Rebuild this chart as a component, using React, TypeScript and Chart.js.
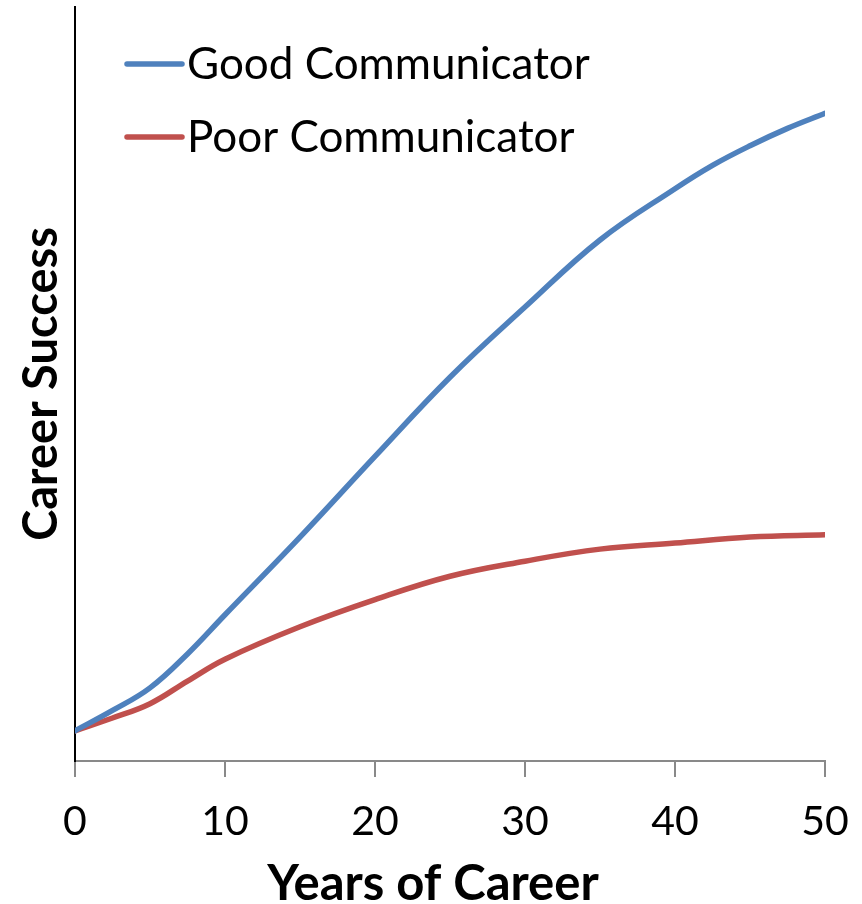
import React, { useEffect, useRef } from "react";
import { Chart, registerables } from "chart.js";

Chart.register(...registerables);

const years = [0, 2.5, 5, 7.5, 10, 15, 20, 25, 30, 35, 40, 42.5, 45, 47.5, 50];
const goodValues = [4.0, 6.7, 9.7, 14.2, 19.4, 29.7, 40.4, 50.9, 60.2, 69.1, 75.9, 79.0, 81.6, 83.9, 85.9];
const poorYears = [0, 2.5, 5, 7.5, 10, 15, 20, 25, 30, 35, 40, 45, 50];
const poorValues = [4.0, 5.7, 7.6, 10.6, 13.5, 17.8, 21.4, 24.5, 26.5, 28.1, 28.9, 29.7, 30.0];
const seriesNames = ["Good Communicator", "Poor Communicator"];
const seriesColors = ["#4F81BD", "#C0504D"];
const xTitle = "Years of Career";
const yTitle = "Career Success";

const FONT = "Lato, 'Open Sans', sans-serif";

const overlayPlugin = {
  id: "insideLegend",
  afterDraw(chart: any) {
    const ctx = chart.ctx;
    const area = chart.chartArea;
    ctx.save();
    seriesNames.forEach((name, i) => {
      const y = area.top + 57 + i * 73;
      const x0 = area.left + 52;
      ctx.strokeStyle = seriesColors[i];
      ctx.lineWidth = 5.5;
      ctx.lineCap = "round";
      ctx.beginPath();
      ctx.moveTo(x0, y);
      ctx.lineTo(x0 + 55, y);
      ctx.stroke();
      ctx.fillStyle = "#000";
      ctx.font = `44px ${FONT}`;
      ctx.textBaseline = "middle";
      ctx.textAlign = "left";
      ctx.fillText(name, x0 + 60, y + 1);
    });
    // x-axis title
    ctx.fillStyle = "#000";
    ctx.font = `bold 49px ${FONT}`;
    ctx.textAlign = "center";
    ctx.textBaseline = "middle";
    ctx.fillText(xTitle, area.left + 358, area.bottom + 123);
    ctx.restore();
  },
};

export default function App() {
  const ref = useRef<HTMLCanvasElement>(null);
  useEffect(() => {
    document.body.style.margin = "0";
    const chart = new Chart(ref.current!, {
      type: "line",
      data: {
        datasets: [
          {
            label: seriesNames[0],
            data: years.map((x, i) => ({ x, y: goodValues[i] })),
            borderColor: seriesColors[0],
            borderWidth: 5.5,
            pointRadius: 0,
            tension: 0.4,
            borderCapStyle: "round",
          },
          {
            label: seriesNames[1],
            data: poorYears.map((x, i) => ({ x, y: poorValues[i] })),
            borderColor: seriesColors[1],
            borderWidth: 5.5,
            pointRadius: 0,
            tension: 0.4,
            borderCapStyle: "round",
          },
        ],
      },
      options: {
        animation: false,
        responsive: false,
        layout: { padding: { top: 7, right: 37, left: 0, bottom: 0 } },
        plugins: { legend: { display: false }, tooltip: { enabled: false } },
        scales: {
          x: {
            type: "linear",
            min: 0,
            max: 50,
            ticks: {
              stepSize: 10,
              color: "#000",
              font: { family: FONT, size: 41 },
              padding: 20,
              maxRotation: 0,
            },
            grid: {
              drawOnChartArea: false,
              tickLength: 16,
              color: "#898989",
              lineWidth: 2,
            },
            border: { color: "#898989", width: 2 },
            title: { display: false, text: xTitle },
            afterFit: (scale: any) => {
              scale.height = 143;
              scale.paddingLeft = 0;
              scale.paddingRight = 0;
            },
          },
          y: {
            min: 0,
            max: 100,
            ticks: { display: false },
            grid: { display: false, drawTicks: false },
            border: { color: "#000", width: 2 },
            title: {
              display: true,
              text: yTitle,
              color: "#000",
              font: { family: FONT, size: 47, weight: "bold" },
              padding: { top: 14, bottom: 0 },
            },
            afterFit: (scale: any) => {
              scale.width = 75;
            },
          },
        },
      } as any,
      plugins: [overlayPlugin],
    });
    return () => chart.destroy();
  }, []);
  return (
    <div style={{ width: 862, height: 904 }}>
      <canvas ref={ref} width={862} height={904} style={{ display: "block" }} />
    </div>
  );
}
